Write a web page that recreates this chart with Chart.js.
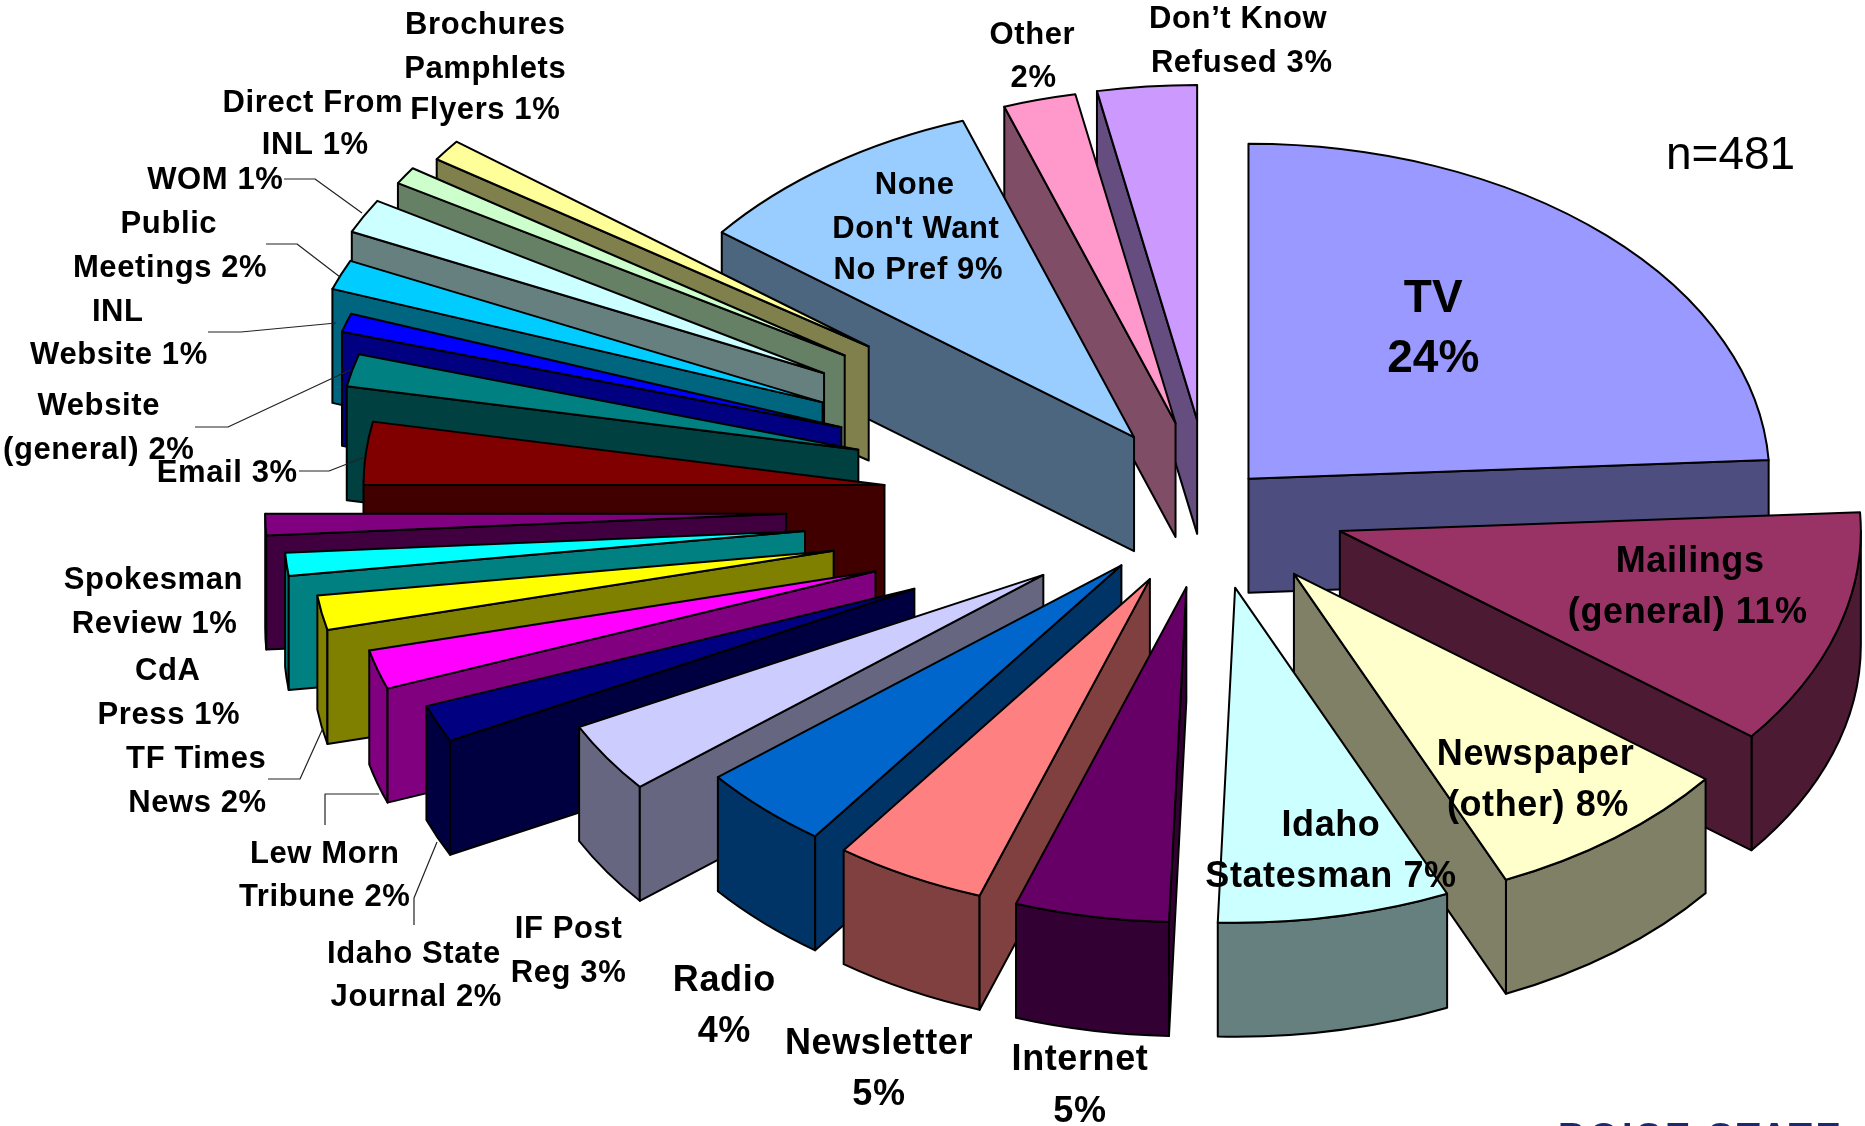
<!DOCTYPE html>
<html>
<head>
<meta charset="utf-8">
<title>Information sources</title>
<script src="https://cdn.jsdelivr.net/npm/chart.js@4"></script>
<style>
    html, body { margin: 0; padding: 0; background: #fff; overflow: hidden; }
    canvas { display: block; }
</style>
</head>
<body>
<canvas id="myChart" width="1865" height="1126"></canvas>
<script>
const categories = ['TV', 'Mailings (general)', 'Newspaper (other)', 'Idaho Statesman', 'Internet',
    'Newsletter', 'Radio', 'IF Post Reg', 'Idaho State Journal', 'Lew Morn Tribune', 'TF Times News',
    'CdA Press', 'Spokesman Review', 'Email', 'Website (general)', 'INL Website', 'Public Meetings',
    'WOM', 'Direct From INL', 'Brochures Pamphlets Flyers', 'None Don\'t Want No Pref', 'Other',
    'Don\'t Know Refused'];
// the printed labels are rounded
const shares = [24.11, 11.39, 7.83, 7.2, 4.77, 4.7, 4.1, 3.4, 1.8, 1.9, 1.66, 1.11, 1.03, 3.03, 1.57, 0.9,
    1.44, 1.66, 0.84, 1.03, 9.2, 2.25, 3.08];
const colours = ['#9999FF', '#993366', '#FFFFCC', '#CCFFFF', '#660066', '#FF8080', '#0066CC', '#CCCCFF',
    '#000080', '#FF00FF', '#FFFF00', '#00FFFF', '#800080', '#800000', '#008080', '#0000FF', '#00CCFF',
    '#CCFFFF', '#CCFFCC', '#FFFF99', '#99CCFF', '#FF99CC', '#CC99FF'];
// how far each slice was dragged out of the pie
const explode = [56, 136, 136, 131, 130, 130, 129, 199, 323, 350, 383, 407, 424, 327, 362, 388, 419,
    437, 433, 421, 130, 132, 133];

// text, x, y (x/y are in the 1568 wide preview of the reference)
const smallText = [
    ['Brochures', 408, 20], ['Pamphlets', 408, 57], ['Flyers 1%', 408, 91],
    ['Direct From', 263, 85], ['INL 1%', 265, 121],
    ['WOM 1%', 181, 150],
    ['Public', 142, 187], ['Meetings 2%', 143, 224],
    ['INL', 99, 261], ['Website 1%', 100, 297],
    ['Website', 83, 340], ['(general) 2%', 83, 377],
    ['Email 3%', 191, 396],
    ['Spokesman', 129, 486], ['Review 1%', 130, 523],
    ['CdA', 141, 563], ['Press 1%', 142, 600],
    ['TF Times', 165, 637], ['News 2%', 166, 674],
    ['Lew Morn', 273, 717], ['Tribune 2%', 273, 753],
    ['Idaho State', 348, 801], ['Journal 2%', 350, 837],
    ['IF Post', 478, 780], ['Reg 3%', 478, 817],
    ['None', 769, 154], ['Don\'t Want', 770, 191], ['No Pref 9%', 772, 226],
    ['Other', 868, 28], ['2%', 869, 64],
    ['Don\u2019t Know', 1041, 15], ['Refused 3%', 1044, 52],
];
const largeText = [
    ['Radio', 609, 823], ['4%', 609, 866],
    ['Newsletter', 739, 876], ['5%', 739, 919],
    ['Internet', 908, 890], ['5%', 908, 933],
    ['Idaho', 1119, 693], ['Statesman 7%', 1119, 736],
    ['Newspaper', 1291, 633], ['(other) 8%', 1293, 676],
    ['Mailings', 1421, 471], ['(general) 11%', 1419, 514],
];
const tvText = [['TV', 1205, 250], ['24%', 1205, 300]];

// leader lines, full size pixels
const leaders = [
    [[284, 179], [315, 179], [362, 213]],
    [[266, 244], [297, 244], [340, 277]],
    [[208, 332], [241, 332], [336, 323]],
    [[195, 427], [228, 427], [350, 370]],
    [[299, 471], [329, 471], [365, 457]],
    [[268, 779], [300, 779], [323, 728]],
    [[325, 825], [325, 794], [379, 794]],
    [[437, 842], [414, 898], [414, 925]],
];

const squash = 0.643; // tilt of the pie
const depth = 114;    // height of the slices on screen
const previewScale = 1865 / 1568;

function halfColour(hex) {
    const n = parseInt(hex.slice(1), 16);
    const r = (n >> 16) & 255, g = (n >> 8) & 255, b = n & 255;
    return `rgb(${Math.round(r / 2)},${Math.round(g / 2)},${Math.round(b / 2)})`;
}

const pie3d = {
    id: 'pie3d',
    beforeDatasetsDraw(chart) {
        const ctx = chart.ctx;
        const arcs = chart.getDatasetMeta(0).data;
        const dataset = chart.data.datasets[0];
        const mid = (a) => (a.startAngle + a.endAngle) / 2;
        const drop = depth / squash;

        // paint from the back of the pie to the front
        const order = arcs.map((a, i) => i).sort((i, j) => Math.sin(mid(arcs[i])) - Math.sin(mid(arcs[j])));

        order.forEach((i) => {
            const arc = arcs[i];
            const { x, y, startAngle, endAngle, outerRadius: r } = arc;
            const m = mid(arc);
            const push = dataset.explode[i];

            const place = () => {
                ctx.translate(x, y);
                ctx.scale(1, squash);
                ctx.translate(-x, -y);
                ctx.translate(Math.cos(m) * push, Math.sin(m) * push);
            };
            const shape = (build, fill) => {
                ctx.save();
                place();
                ctx.beginPath();
                build();
                ctx.restore();
                if (fill) {
                    ctx.fillStyle = fill;
                    ctx.fill();
                }
                ctx.lineWidth = 2;
                ctx.lineJoin = 'round';
                ctx.strokeStyle = '#000';
                ctx.stroke();
            };
            const radialWall = (angle) => shape(() => {
                ctx.moveTo(x, y);
                ctx.lineTo(x + Math.cos(angle) * r, y + Math.sin(angle) * r);
                ctx.lineTo(x + Math.cos(angle) * r, y + Math.sin(angle) * r + drop);
                ctx.lineTo(x, y + drop);
                ctx.closePath();
            }, halfColour(colours[i]));

            // rim, only the part that faces the viewer
            const from = Math.max(startAngle, 0);
            const to = Math.min(endAngle, Math.PI);
            if (to > from) {
                shape(() => {
                    ctx.arc(x, y, r, from, to);
                    ctx.arc(x, y + drop, r, to, from, true);
                    ctx.closePath();
                }, halfColour(colours[i]));
            }
            if (Math.cos(startAngle) < -1e-6) radialWall(startAngle);
            if (Math.cos(endAngle) > 1e-6) radialWall(endAngle);

            // top face is the library's own arc element
            ctx.save();
            place();
            arc.draw(ctx);
            ctx.restore();
            shape(() => {
                ctx.moveTo(x, y);
                ctx.arc(x, y, r, startAngle, endAngle);
                ctx.closePath();
            });
        });
        return false;
    },
    afterDraw(chart) {
        const ctx = chart.ctx;
        ctx.save();

        ctx.strokeStyle = '#222';
        ctx.lineWidth = 1.2;
        leaders.forEach((line) => {
            ctx.beginPath();
            line.forEach((p, i) => (i ? ctx.lineTo(p[0], p[1]) : ctx.moveTo(p[0], p[1])));
            ctx.stroke();
        });

        ctx.fillStyle = '#000';
        ctx.textAlign = 'center';
        ctx.textBaseline = 'middle';
        const write = (list, font, spacing) => {
            ctx.font = font;
            ctx.letterSpacing = spacing;
            list.forEach((t) => ctx.fillText(t[0], t[1] * previewScale, t[2] * previewScale + 2));
        };
        write(smallText, 'bold 31px "Liberation Sans"', '0.6px');
        write(largeText, 'bold 36px "Liberation Sans"', '0.6px');
        write(tvText, 'bold 46px "Liberation Sans"', '0px');
        write([['n=481', 1455, 130]], '46px "Liberation Sans"', '0px');

        // logo cut off by the bottom of the slide
        ctx.fillStyle = '#1A2A6C';
        ctx.textBaseline = 'alphabetic';
        ctx.textAlign = 'left';
        ctx.font = 'bold 38px "Liberation Sans"';
        ctx.letterSpacing = '3.5px';
        ctx.fillText('BOISE STATE', 1558, 1150);
        ctx.restore();
    },
};

new Chart(document.getElementById('myChart').getContext('2d'), {
    type: 'pie',
    data: {
        labels: categories,
        datasets: [
            {
                data: shares,
                backgroundColor: colours,
                borderWidth: 0,
                explode: explode,
            },
        ],
    },
    options: {
        responsive: false,
        animation: false,
        radius: 521,
        layout: { padding: { left: 555, bottom: 116 } },
        plugins: {
            legend: { display: false },
            tooltip: { enabled: false },
        },
    },
    plugins: [pie3d],
});
</script>
</body>
</html>
